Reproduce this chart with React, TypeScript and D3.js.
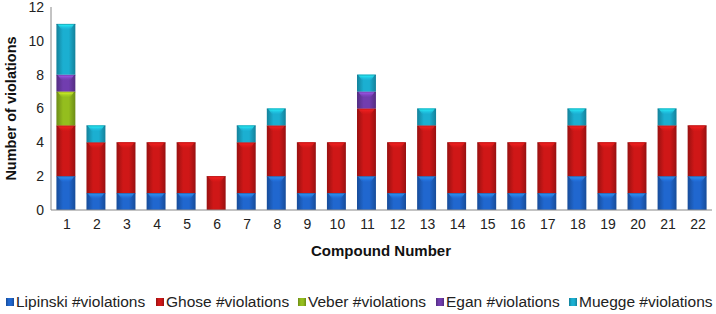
import React from 'react';
import * as d3 from 'd3';

const compounds = ['1','2','3','4','5','6','7','8','9','10','11','12','13','14','15','16','17','18','19','20','21','22'];
const lipinski = [2,1,1,1,1,0,1,2,1,1,2,1,2,1,1,1,1,2,1,1,2,2];
const ghose = [3,3,3,3,3,2,3,3,3,3,4,3,3,3,3,3,3,3,3,3,3,3];
const veber = [2,0,0,0,0,0,0,0,0,0,0,0,0,0,0,0,0,0,0,0,0,0];
const egan = [1,0,0,0,0,0,0,0,0,0,1,0,0,0,0,0,0,0,0,0,0,0];
const muegge = [3,1,0,0,0,0,1,1,0,0,1,0,1,0,0,0,0,1,0,0,1,0];
const seriesNames = ['Lipinski #violations','Ghose #violations','Veber #violations','Egan #violations','Muegge #violations'];
const seriesColors = ['#1e62c4','#c41616','#8cb41c','#6b3aa6','#1aa6c6'];
const yTicks = [0,2,4,6,8,10,12];

const W = 716, H = 314;
const margin = { top: 7, right: 4, bottom: 105, left: 51 };

export default function App() {
  const x = d3.scaleBand<string>().domain(compounds).range([margin.left, W - margin.right]).paddingInner(0.37).paddingOuter(0.18);
  const y = d3.scaleLinear().domain([0, 12]).range([H - margin.bottom + 1, margin.top]);

  const table = compounds.map((c, i) => ({
    c, s0: lipinski[i], s1: ghose[i], s2: veber[i], s3: egan[i], s4: muegge[i],
  }));
  const stack = d3.stack<any>().keys(['s0','s1','s2','s3','s4'])(table);
  const font = 'Arial, "Liberation Sans", sans-serif';

  return (
    <svg width={W} height={H} style={{ position: 'absolute', left: 0, top: 0, background: '#fff' }}>
      <defs>
        {seriesColors.map((col, i) => {
          const c = d3.color(col)!;
          return (
            <g key={i}>
              <linearGradient id={`g${i}`} x1="0" x2="1" y1="0" y2="0">
                <stop offset="0" stopColor={c.darker(0.7).toString()} />
                <stop offset="0.35" stopColor={c.brighter(0.15).toString()} />
                <stop offset="0.65" stopColor={c.brighter(0.15).toString()} />
                <stop offset="1" stopColor={c.darker(0.7).toString()} />
              </linearGradient>
              <linearGradient id={`h${i}`} x1="0" x2="0" y1="0" y2="1">
                <stop offset="0" stopColor={c.brighter(1.4).toString()} stopOpacity="1" />
                <stop offset="1" stopColor={c.brighter(0.5).toString()} stopOpacity="0" />
              </linearGradient>
            </g>
          );
        })}
      </defs>

      {stack.map((layer, si) => (
        <g key={si}>
          {layer.map((d, i) => {
            if (d[1] - d[0] <= 0) return null;
            const bx = x(compounds[i])!;
            const bw = x.bandwidth();
            const top = y(d[1]);
            const h = y(d[0]) - y(d[1]);
            return (
              <g key={i}>
                <rect x={bx} y={top} width={bw} height={h} fill={`url(#g${si})`} />
                <path d={`M${bx + 1},${top} L${bx + bw - 1},${top} L${bx + bw * 0.72},${top + 6} L${bx + bw * 0.28},${top + 6} Z`} fill={`url(#h${si})`} />
                <rect x={bx} y={top} width={bw} height={1} fill={d3.color(seriesColors[si])!.darker(1).toString()} opacity={0.5} />
              </g>
            );
          })}
        </g>
      ))}

      <line x1={margin.left} x2={margin.left} y1={margin.top} y2={y(0)} stroke="#888" />
      <line x1={margin.left} x2={W - margin.right} y1={y(0)} y2={y(0)} stroke="#888" />

      {yTicks.map(t => (
        <text key={t} x={44} y={y(t)} dy="0.35em" textAnchor="end" fontFamily={font} fontSize={14} fill="#222">{t}</text>
      ))}
      {compounds.map(c => (
        <text key={c} x={x(c)! + x.bandwidth() / 2 + 1} y={229} textAnchor="middle" fontFamily={font} fontSize={14} fill="#222">{c}</text>
      ))}

      <text transform={`translate(16,${(margin.top + y(0)) / 2}) rotate(-90)`} textAnchor="middle" fontFamily={font} fontSize={14.5} fontWeight="bold" fill="#111">Number of violations</text>
      <text x={381} y={256} textAnchor="middle" fontFamily={font} fontSize={15} fontWeight="bold" fill="#111">Compound Number</text>

      {(() => {
        const starts = [6, 156, 298, 436, 569];
        return seriesNames.map((n, i) => (
          <g key={n}>
            <rect x={starts[i]} y={298} width={8} height={8} fill={`url(#g${i})`} />
            <text x={starts[i] + 10} y={307} fontFamily={font} fontSize={15.5} fill="#222">{n}</text>
          </g>
        ));
      })()}
    </svg>
  );
}
